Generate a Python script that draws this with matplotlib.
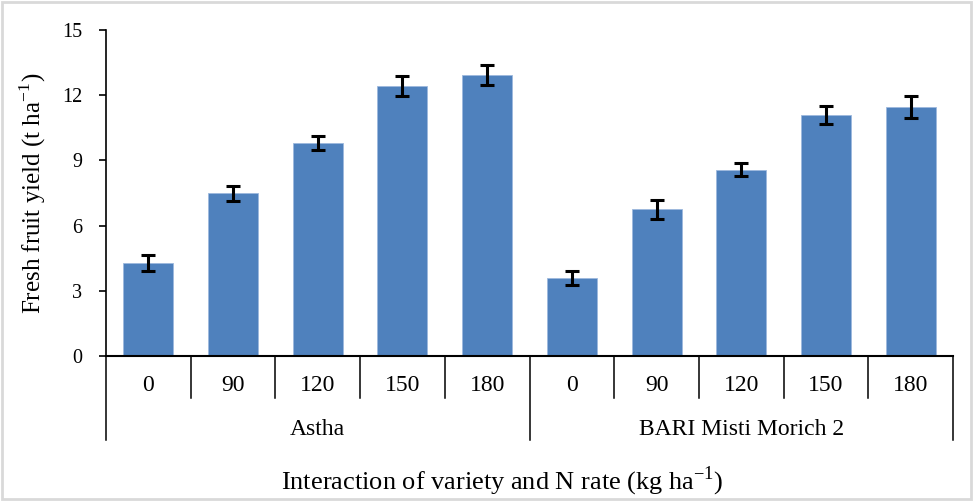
import numpy as np
import matplotlib.pyplot as plt
from matplotlib.patches import Rectangle
from matplotlib.transforms import blended_transform_factory

plt.rcParams['font.family'] = ['Liberation Serif', 'DejaVu Serif']

# dados
varieties = ['Astha', 'BARI Misti Morich 2']
n_rates = ['0', '90', '120', '150', '180']
yield_astha = [4.27, 7.49, 9.79, 12.41, 12.93]
yield_bari = [3.58, 6.75, 8.57, 11.09, 11.47]
err_astha = [0.38, 0.35, 0.33, 0.46, 0.44]
err_bari = [0.33, 0.44, 0.30, 0.43, 0.50]

values = yield_astha + yield_bari
errors = err_astha + err_bari
labels = n_rates + n_rates
x = np.arange(len(values))

fig = plt.figure(figsize=(9.73, 5.01), dpi=100)
ax = fig.add_axes([106/973, 1 - 356/501, 847/973, 326/501])

ax.bar(x, values, width=0.59, color='#4F81BD', edgecolor='#9DB9DE', linewidth=0.6)
ax.errorbar(x, values, yerr=errors, fmt='none', ecolor='black',
            elinewidth=2.2, capsize=5, capthick=2.2)

ax.set_xlim(-0.5, len(values) - 0.5)
ax.set_ylim(0, 15)
ax.set_yticks(np.arange(0, 16, 3))
ax.tick_params(axis='y', labelsize=14.5, length=5, width=1.2, direction='out', pad=12)
ax.set_xticks([])
for s in ['top', 'right']:
    ax.spines[s].set_visible(False)
ax.spines['left'].set_linewidth(1.2)
ax.spines['bottom'].set_linewidth(1.5)

# rótulos hierárquicos no eixo x
trans = blended_transform_factory(ax.transData, ax.transAxes)
for i, lab in enumerate(labels):
    ax.text(i, -0.09, lab, transform=trans, ha='center', va='center', fontsize=17)
for b in np.arange(-0.5, len(values), 1.0):
    bottom = -0.258 if b in (-0.5, 4.5, 9.5) else -0.129
    ax.plot([b, b], [0, bottom], transform=trans, color='black', lw=1.1, clip_on=False)
for g, name in enumerate(varieties):
    ax.text(g * 5 + 2, -0.226, name, transform=trans, ha='center', va='center', fontsize=17)

ax.set_ylabel('Fresh fruit yield (t ha$^{\\mathregular{-1}}$)', fontsize=18, labelpad=10)
fig.text(502/973, 1 - 481/501, 'Interaction of variety and N rate (kg ha$^{\\mathregular{-1}}$)',
         ha='center', va='center', fontsize=19)

# moldura cinza
fig.patches.append(Rectangle((0.002, 0.003), 0.996, 0.994, transform=fig.transFigure,
                             fill=False, edgecolor='#D9D9D9', linewidth=2))

fig.savefig('out.png', dpi=100)
